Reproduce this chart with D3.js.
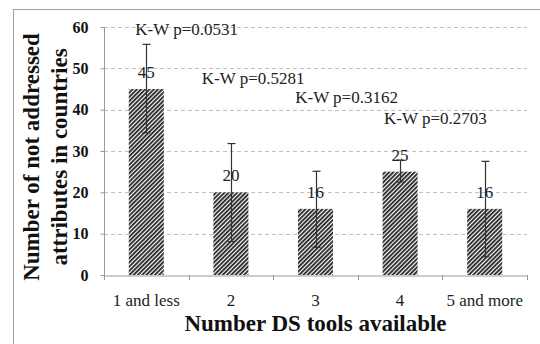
<!DOCTYPE html>
<html>
<head>
<meta charset="utf-8">
<script src="https://cdn.jsdelivr.net/npm/d3@7"></script>
<style>
  html, body { margin: 0; padding: 0; background: #fff; }
  svg { display: block; }
  svg text { font-family: "Liberation Serif", "Times New Roman", serif; }
</style>
</head>
<body>
<svg id="chart" width="540" height="344"></svg>
<script>
// datos
const categories = ["1 and less", "2", "3", "4", "5 and more"];
const values = [45, 20, 16, 25, 16];
const errLow = [34.4, 8.1, 6.7, 22.5, 4.4];
const errHigh = [55.8, 31.8, 25.1, 27.8, 27.5];
const yTicks = [0, 10, 20, 30, 40, 50, 60];

// anotaciones Kruskal-Wallis (x en unidades de categoria, y en unidades del eje)
const kwLabels = ["K-W p=0.0531", "K-W p=0.5281", "K-W p=0.3162", "K-W p=0.2703"];
const kwX = [0.37, 1.155, 2.26, 3.31];
const kwY = [58.1, 46.1, 41.5, 36.5];

const svg = d3.select("#chart");
const plotLeft = 104, plotRight = 527, plotTop = 27, plotBottom = 275;

// marco exterior (solo se ven borde izquierdo y superior)
svg.append("rect")
   .attr("x", 13.5).attr("y", 9.5)
   .attr("width", 560).attr("height", 360)
   .attr("fill", "none")
   .attr("stroke", "#a0a0a0");

// patron rayado de las barras
const defs = svg.append("defs");
const pat = defs.append("pattern")
   .attr("id", "hatch")
   .attr("patternUnits", "userSpaceOnUse")
   .attr("width", 3).attr("height", 3)
   .attr("patternTransform", "rotate(45)");
pat.append("rect").attr("width", 3).attr("height", 3).attr("fill", "#fff");
pat.append("rect").attr("width", 1.8).attr("height", 3).attr("fill", "#222");

const x = d3.scaleBand().domain(categories).range([plotLeft, plotRight]).padding(0);
const xLin = d3.scaleLinear().domain([0, categories.length]).range([plotLeft, plotRight]);
const y = d3.scaleLinear().domain([0, 60]).range([plotBottom, plotTop]);

const barW = 35;

// lineas de cuadricula
svg.append("g")
   .selectAll("line")
   .data(yTicks.filter(d => d > 0))
   .enter()
   .append("line")
   .attr("x1", plotLeft).attr("x2", plotRight)
   .attr("y1", d => Math.round(y(d)) + 0.5)
   .attr("y2", d => Math.round(y(d)) + 0.5)
   .attr("stroke", "#c0c0c0")
   .attr("stroke-dasharray", "4,3");

// eje Y
const yAxis = svg.append("g")
   .attr("transform", `translate(${plotLeft + 0.5},0)`)
   .call(d3.axisLeft(y).tickValues(yTicks).tickSize(4).tickPadding(12));
yAxis.attr("font-family", null);
yAxis.select(".domain").attr("stroke", "#999").attr("d", `M0,${y(60)}V${y(0)}`);
yAxis.selectAll(".tick line").attr("stroke", "#999");
yAxis.selectAll(".tick text")
   .attr("font-size", "16px")
   .attr("font-weight", "bold")
   .attr("fill", "#111");

// eje X
const xAxis = svg.append("g")
   .attr("transform", `translate(0,${plotBottom + 0.5})`)
   .call(d3.axisBottom(x).tickSize(0).tickPadding(18));
xAxis.attr("font-family", null);
xAxis.select(".domain").attr("stroke", "#999");
xAxis.selectAll(".tick text")
   .attr("font-size", "17px")
   .attr("fill", "#222");
// marcas entre categorias
svg.append("g")
   .selectAll("line")
   .data(d3.range(categories.length + 1))
   .enter()
   .append("line")
   .attr("x1", d => Math.round(xLin(d)) + 0.5)
   .attr("x2", d => Math.round(xLin(d)) + 0.5)
   .attr("y1", plotBottom).attr("y2", plotBottom + 5)
   .attr("stroke", "#999");

// barras
svg.append("g")
   .selectAll("rect")
   .data(values)
   .enter()
   .append("rect")
   .attr("x", (d, i) => x(categories[i]) + (x.bandwidth() - barW) / 2)
   .attr("y", d => y(d))
   .attr("width", barW)
   .attr("height", d => y(0) - y(d))
   .attr("fill", "url(#hatch)");

// barras de error
const eb = svg.append("g").attr("stroke", "#333").attr("stroke-width", 1.2);
values.forEach((v, i) => {
  const cx = Math.round(x(categories[i]) + x.bandwidth() / 2) + 0.5;
  eb.append("line").attr("x1", cx).attr("x2", cx)
    .attr("y1", y(errLow[i])).attr("y2", y(errHigh[i]));
  eb.append("line").attr("x1", cx - 4).attr("x2", cx + 4)
    .attr("y1", y(errHigh[i])).attr("y2", y(errHigh[i]));
  eb.append("line").attr("x1", cx - 4).attr("x2", cx + 4)
    .attr("y1", y(errLow[i])).attr("y2", y(errLow[i]));
});

// etiquetas de valor
svg.append("g")
   .selectAll("text")
   .data(values)
   .enter()
   .append("text")
   .attr("x", (d, i) => x(categories[i]) + x.bandwidth() / 2)
   .attr("y", d => y(d) - 11)
   .attr("text-anchor", "middle")
   .attr("font-size", "17px")
   .attr("fill", "#222")
   .text(d => d);

// anotaciones K-W
svg.append("g")
   .selectAll("text")
   .data(kwLabels)
   .enter()
   .append("text")
   .attr("x", (d, i) => xLin(kwX[i]))
   .attr("y", (d, i) => y(kwY[i]))
   .attr("font-size", "17px")
   .attr("fill", "#222")
   .text(d => d);

// titulos de ejes
svg.append("text")
   .attr("x", (plotLeft + plotRight) / 2)
   .attr("y", 331)
   .attr("text-anchor", "middle")
   .attr("font-size", "23px")
   .attr("font-weight", "bold")
   .attr("fill", "#111")
   .text("Number DS tools available");

const yTitle = svg.append("text")
   .attr("transform", "translate(39,157) rotate(-90)")
   .attr("text-anchor", "middle")
   .attr("font-size", "23px")
   .attr("font-weight", "bold")
   .attr("fill", "#111");
yTitle.append("tspan").attr("x", 0).attr("y", 0).text("Number of not addressed");
yTitle.append("tspan").attr("x", 0).attr("y", 27.5).text("attributes in countries");
</script>
</body>
</html>
